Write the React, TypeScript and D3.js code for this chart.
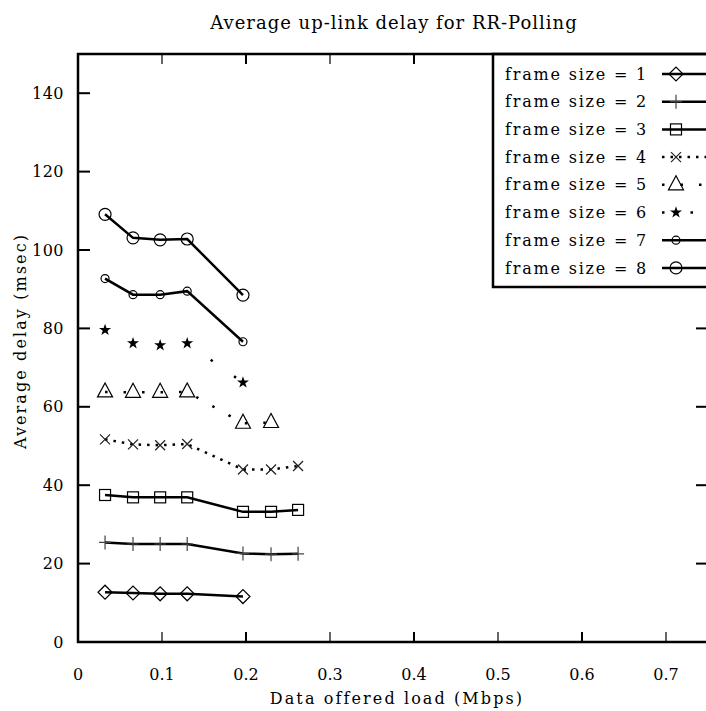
import React from "react";
import * as d3 from "d3";

const xLoads = [0.0322, 0.0655, 0.0978, 0.13, 0.1964, 0.2298, 0.262];
const fs1 = [12.7, 12.5, 12.3, 12.3, 11.6];
const fs2 = [25.4, 25.0, 25.0, 25.0, 22.6, 22.4, 22.5];
const fs3 = [37.5, 36.9, 36.9, 36.9, 33.2, 33.2, 33.7];
const fs4 = [51.7, 50.4, 50.2, 50.5, 44.0, 44.0, 44.9];
const fs5 = [63.8, 63.7, 63.7, 63.8, 55.8, 56.0];
const fs6 = [79.6, 76.2, 75.7, 76.2, 66.2];
const fs7 = [92.7, 88.6, 88.6, 89.5, 76.6];
const fs8 = [109.1, 103.1, 102.6, 102.8, 88.5];

const seriesLabels = [
  "frame size = 1",
  "frame size = 2",
  "frame size = 3",
  "frame size = 4",
  "frame size = 5",
  "frame size = 6",
  "frame size = 7",
  "frame size = 8",
];
const seriesValues = [fs1, fs2, fs3, fs4, fs5, fs6, fs7, fs8];
const markerKinds = ["diamond", "plus", "square", "cross", "triangle", "star", "circleS", "circleL"];
const dashes = [null, null, null, "2.5,6", "2.5,16", "2.5,26", null, null];

const xTicks = [0, 0.1, 0.2, 0.3, 0.4, 0.5, 0.6, 0.7];
const yTicks = [0, 20, 40, 60, 80, 100, 120, 140];

const title = "Average up-link delay for RR-Polling";
const xTitle = "Data offered load (Mbps)";
const yTitle = "Average delay (msec)";

const FONT = "'DejaVu Serif', serif";
const W = 706;
const H = 711;
const L = 78, R = 708, T = 54, B = 642;

function Marker({ kind, x, y }: { kind: string; x: number; y: number }) {
  const sw = 1.2;
  switch (kind) {
    case "diamond":
      return <path d={`M${x - 7},${y}L${x},${y - 7}L${x + 7},${y}L${x},${y + 7}Z`} fill="none" stroke="#000" strokeWidth={sw} />;
    case "plus":
      return (
        <path d={`M${x - 6},${y}L${x + 6},${y}M${x},${y - 7}L${x},${y + 7}`} fill="none" stroke="#444" strokeWidth={sw} />
      );
    case "square":
      return <rect x={x - 5.5} y={y - 5.5} width={11} height={11} fill="none" stroke="#000" strokeWidth={sw} />;
    case "cross":
      return <path d={`M${x - 5},${y - 5}L${x + 5},${y + 5}M${x - 5},${y + 5}L${x + 5},${y - 5}`} fill="none" stroke="#222" strokeWidth={sw} />;
    case "triangle":
      return <path d={`M${x - 7.5},${y + 5}L${x},${y - 9}L${x + 7.5},${y + 5}Z`} fill="none" stroke="#000" strokeWidth={sw} />;
    case "star":
      return <path d={d3.symbol(d3.symbolStar, 45)() as string} transform={`translate(${x},${y})`} fill="#000" />;
    case "circleS":
      return <circle cx={x} cy={y} r={4} fill="none" stroke="#000" strokeWidth={sw} />;
    case "circleL":
      return <circle cx={x} cy={y} r={6} fill="none" stroke="#000" strokeWidth={sw} />;
  }
  return null;
}

export default function App() {
  const x = d3.scaleLinear().domain([0, 0.75]).range([L, R]);
  const y = d3.scaleLinear().domain([0, 150]).range([B, T]);
  const line = d3
    .line<[number, number]>()
    .x((d) => x(d[0]))
    .y((d) => y(d[1]));

  const legX = 493;
  const legRow0 = 74;
  const legStep = 27.7;

  return (
    <svg width={W} height={H} style={{ position: "absolute", left: 0, top: 0, background: "#fff" }} fontFamily={FONT}>
      <rect width={W} height={H} fill="#fff" />
      <text x={394} y={29} textAnchor="middle" fontSize={18} letterSpacing={1}>{title}</text>

      {/* ticks */}
      {yTicks.map((t) => (
        <g key={"y" + t}>
          <line x1={L} x2={L + 12} y1={y(t)} y2={y(t)} stroke="#000" strokeWidth={2} />
          <line x1={R - 12} x2={R} y1={y(t)} y2={y(t)} stroke="#000" strokeWidth={2} />
          <text x={64} y={y(t)} dy="0.35em" textAnchor="end" fontSize={16} letterSpacing={0.5}>{t}</text>
        </g>
      ))}
      {xTicks.map((t) => (
        <g key={"x" + t}>
          <line x1={x(t)} x2={x(t)} y1={B} y2={B - 10} stroke="#000" strokeWidth={t * 10 % 2 === 1 ? 1.2 : 2} />
          <line x1={x(t)} x2={x(t)} y1={T} y2={T + 10} stroke="#000" strokeWidth={t * 10 % 2 === 1 ? 1.2 : 2} />
          <text x={x(t)} y={680} textAnchor="middle" fontSize={16}>{t === 0 ? "0" : t.toFixed(1)}</text>
        </g>
      ))}

      {/* series */}
      {seriesValues.map((vals, i) => {
        const pts = vals.map((v, j) => [xLoads[j], v] as [number, number]);
        return (
          <g key={"s" + i}>
            <path
              d={line(pts) as string}
              fill="none"
              stroke="#000"
              strokeWidth={2.5}
              strokeDasharray={dashes[i] ?? undefined}
            />
            {pts.map((p, j) => (
              <Marker key={j} kind={markerKinds[i]} x={x(p[0])} y={y(p[1])} />
            ))}
          </g>
        );
      })}

      {/* legend */}
      <rect x={legX} y={T} width={W - legX + 20} height={287 - T} fill="#fff" stroke="#000" strokeWidth={2.5} />
      {seriesLabels.map((lab, i) => {
        const cy = legRow0 + i * legStep;
        return (
          <g key={"l" + i}>
            <text x={505} y={cy} dy="0.35em" fontSize={16} letterSpacing={1.8}>{lab}</text>
            <line x1={662} x2={720} y1={cy} y2={cy} stroke="#000" strokeWidth={2.5} strokeDasharray={dashes[i] ?? undefined} />
            <Marker kind={markerKinds[i]} x={676} y={cy} />
          </g>
        );
      })}

      {/* frame */}
      <path d={`M${R + 5},${T}L${L},${T}L${L},${B}L${R + 5},${B}`} fill="none" stroke="#000" strokeWidth={2.5} />

      <text x={397} y={704} textAnchor="middle" fontSize={16} letterSpacing={2.1}>{xTitle}</text>
      <text transform={`translate(26,341) rotate(-90)`} textAnchor="middle" fontSize={16} letterSpacing={2.1}>{yTitle}</text>
    </svg>
  );
}
